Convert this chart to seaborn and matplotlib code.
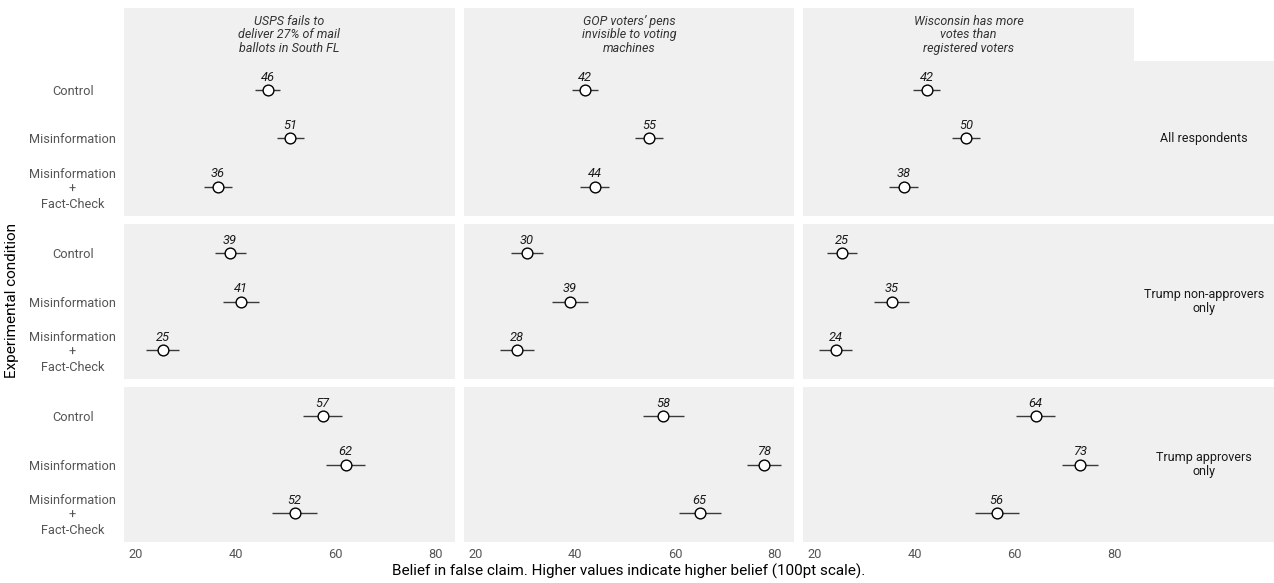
import numpy as np
import pandas as pd
import seaborn as sns
import matplotlib.pyplot as plt
from matplotlib.patches import Rectangle

claims = [
    "USPS fails to\ndeliver 27% of mail\nballots in South FL",
    "GOP voters\u2019 pens\ninvisible to voting\nmachines",
    "Wisconsin has more\nvotes than\nregistered voters",
]
groups = ["All respondents", "Trump non-approvers\nonly", "Trump approvers\nonly"]
conditions = ["Control", "Misinformation", "Misinformation\n+\nFact-Check"]

# mean belief, [claim][condition]
means_all = [[46.4, 50.9, 36.4], [42.0, 54.8, 43.9], [42.4, 50.3, 37.8]]
means_non = [[38.9, 41.1, 25.4], [30.3, 38.9, 28.3], [25.4, 35.4, 24.2]]
means_app = [[57.4, 62.0, 51.8], [57.6, 77.8, 64.9], [64.2, 73.0, 56.4]]

# CI half widths
ci_all = [[2.5, 2.7, 2.8], [2.65, 2.8, 2.9], [2.7, 2.85, 2.85]]
ci_non = [[3.1, 3.6, 3.3], [3.2, 3.6, 3.4], [3.0, 3.5, 3.3]]
ci_app = [[3.9, 3.95, 4.5], [4.1, 3.4, 4.2], [3.9, 3.6, 4.4]]

rows = []
for g, m_grp, c_grp in zip(groups, [means_all, means_non, means_app], [ci_all, ci_non, ci_app]):
    for cl, m_cl, c_cl in zip(claims, m_grp, c_grp):
        for k, cond in enumerate(conditions):
            rows.append({"group": g, "claim": cl, "condition": cond, "pos": k,
                         "mean": m_cl[k], "ci": c_cl[k]})
df = pd.DataFrame(rows)

sns.set_theme(style="white")
plt.rcParams['font.family'] = ['Roboto', 'DejaVu Sans']

bg = "#f0f0f0"
W, H = 1274, 583
fig, axes = plt.subplots(3, 3, figsize=(W / 100, H / 100), dpi=100, sharex=True, sharey=True)
fig.subplots_adjust(left=124 / W, right=1134 / W, top=1 - 61 / H, bottom=1 - 542 / H,
                    wspace=0.026, hspace=0.055)

pw, ph = 331.0, 154.7
for i, g in enumerate(groups):
    for j, cl in enumerate(claims):
        ax = axes[i, j]
        sub = df[(df.group == g) & (df.claim == cl)]
        ax.set_facecolor(bg)
        ax.hlines(sub["pos"], sub["mean"] - sub["ci"], sub["mean"] + sub["ci"],
                  color="#3a3a3a", linewidth=1.0, zorder=2)
        sns.scatterplot(data=sub, x="mean", y="pos", ax=ax, s=60, color="white",
                        edgecolor="black", linewidth=1.0, zorder=3, legend=False)
        for _, r in sub.iterrows():
            ax.annotate(f"{round(r['mean'])}", (r["mean"], r["pos"]), xytext=(0, 4.5),
                        textcoords="offset points", ha="center", va="bottom",
                        fontsize=9.3, fontstyle="italic", color="#1a1a1a")
        ax.set_xlim(17.67, 83.9)
        ax.set_ylim(2.6, -0.6)
        ax.set_xticks([20, 40, 60, 80])
        ax.set_yticks(range(len(conditions)))
        ax.set_yticklabels(conditions)
        ax.set_xlabel("")
        ax.set_ylabel("")
        for s in ax.spines.values():
            s.set_visible(False)
        ax.tick_params(axis="both", length=0, labelsize=9.2, labelcolor="#555555")
        ax.tick_params(axis="y", pad=37)
        ax.tick_params(axis="x", pad=4)
        for lab in ax.get_yticklabels():
            lab.set_ha("center")
            lab.set_multialignment("center")
        if i == 0:
            ax.add_patch(Rectangle((0, 1), 1, 53 / ph, transform=ax.transAxes,
                                   clip_on=False, facecolor=bg, linewidth=0))
            ax.text(0.5, 1 + 26.5 / ph, cl, transform=ax.transAxes, ha="center",
                    va="center", fontsize=9, fontstyle="italic", color="#333333",
                    linespacing=1.05)
        if j == 2:
            ax.add_patch(Rectangle((1, 0), 140 / pw, 1, transform=ax.transAxes,
                                   clip_on=False, facecolor=bg, linewidth=0))
            ax.text(1 + 70 / pw, 0.5, g, transform=ax.transAxes, ha="center",
                    va="center", fontsize=9, color="#1a1a1a", linespacing=1.05)

fig.text(12 / W, 1 - 301 / H, "Experimental condition", rotation=90, ha="center",
         va="center", fontsize=11, color="black")
fig.text(629 / W, 1 - 571 / H,
         "Belief in false claim. Higher values indicate higher belief (100pt scale).",
         ha="center", va="center", fontsize=11, color="black")

plt.savefig("out.png", dpi=100)
